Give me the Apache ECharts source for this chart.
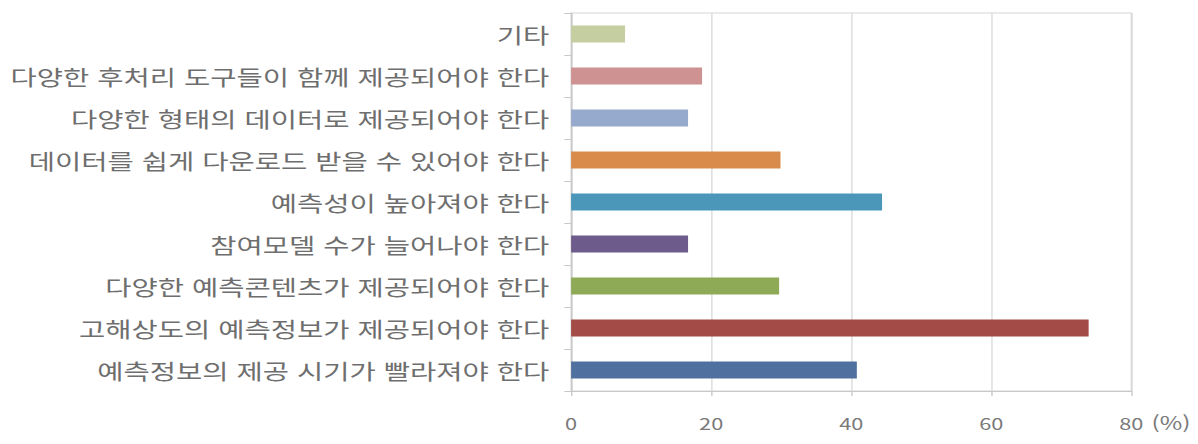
<!DOCTYPE html>
<html lang="ko">
<head>
<meta charset="utf-8">
<title>예측정보 개선 요구사항</title>
<script src="https://cdn.jsdelivr.net/npm/echarts@6/dist/echarts.min.js"></script>
<style>
  html, body { margin: 0; padding: 0; background: #ffffff; overflow: hidden; }
  #wrap { width: 1198px; height: 444px; overflow: hidden; }
  /* the chart is laid out on a narrower canvas and widened to the page */
  #chart { width: 881px; height: 444px; transform: scaleX(1.3598); transform-origin: 0 0; }
</style>
</head>
<body>
<div id="wrap"><div id="chart"></div></div>
<script>
// Responses, listed bottom to top as drawn on the category axis
const categories = [
  '예측정보의 제공 시기가 빨라져야 한다',
  '고해상도의 예측정보가 제공되어야 한다',
  '다양한 예측콘텐츠가 제공되어야 한다',
  '참여모델 수가 늘어나야 한다',
  '예측성이 높아져야 한다',
  '데이터를 쉽게 다운로드 받을 수 있어야 한다',
  '다양한 형태의 데이터로 제공되어야 한다',
  '다양한 후처리 도구들이 함께 제공되어야 한다',
  '기타'
];

// Share of respondents (%)
const values = [40.8, 73.9, 29.7, 16.7, 44.4, 29.9, 16.7, 18.7, 7.7];

// One fill per response bar
const barColors = [
  '#50709f', '#a34b47', '#8eaa56', '#6d5b8b', '#4a97b9',
  '#d98b4c', '#95aacc', '#cf9292', '#c4cea0'
];

// Value axis ticks
const xTicks = [0, 20, 40, 60, 80];

const chart = echarts.init(document.getElementById('chart'), null, { renderer: 'svg' });

chart.setOption({
  backgroundColor: '#ffffff',
  animation: false,
  grid: {
    left: 420,
    right: 49,
    top: 13,
    bottom: 53,
    show: true,
    borderColor: '#d6d6d6',
    borderWidth: 1,
    containLabel: false
  },
  xAxis: {
    type: 'value',
    min: xTicks[0],
    max: xTicks[xTicks.length - 1],
    interval: xTicks[1] - xTicks[0],
    name: '(%)',
    nameLocation: 'end',
    nameGap: 12,
    nameTextStyle: {
      color: '#7a7a7a',
      fontSize: 18,
      fontFamily: 'Noto Sans CJK KR',
      align: 'left',
      verticalAlign: 'top',
      padding: [22, 0, 0, 0]
    },
    axisLine: { show: true, lineStyle: { color: '#c8c8c8', width: 1 } },
    axisTick: { show: true, length: 5, lineStyle: { color: '#c8c8c8' } },
    axisLabel: {
      color: '#7a7a7a',
      fontSize: 16,
      fontFamily: 'Noto Sans CJK KR',
      margin: 24
    },
    splitLine: { show: true, lineStyle: { color: '#dadada', width: 1 } }
  },
  yAxis: {
    type: 'category',
    data: categories,
    axisLine: { show: true, lineStyle: { color: '#c8c8c8', width: 1 } },
    axisTick: { show: true, length: 5, alignWithLabel: false, lineStyle: { color: '#c8c8c8' } },
    axisLabel: {
      color: '#6e6e6e',
      fontSize: 21,
      fontFamily: 'Noto Sans CJK KR',
      margin: 16
    },
    splitLine: { show: false }
  },
  series: [{
    type: 'bar',
    barWidth: 17,
    data: values.map((v, i) => ({ value: v, itemStyle: { color: barColors[i] } }))
  }]
});
</script>
</body>
</html>
